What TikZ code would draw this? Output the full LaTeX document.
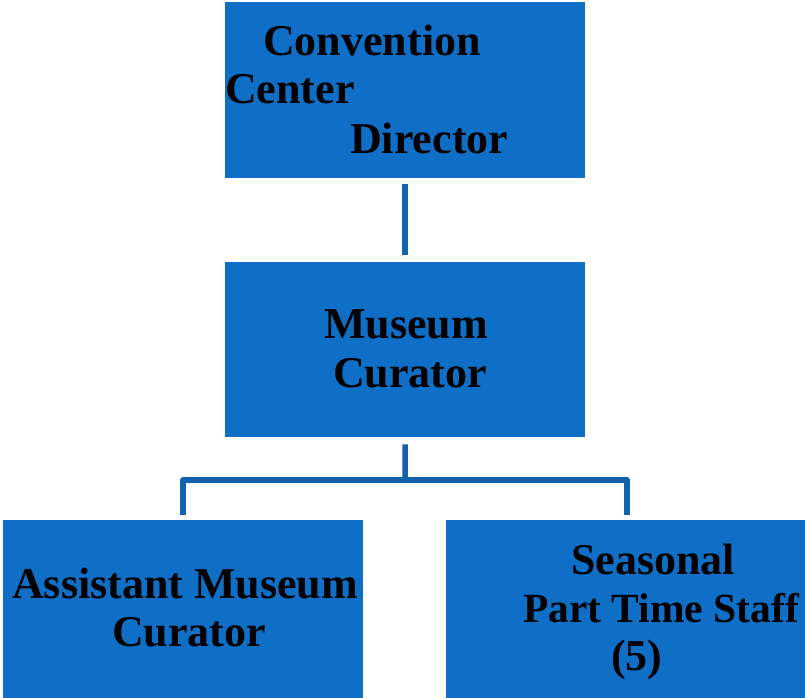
\documentclass[tikz,border=0pt]{standalone}
\usepackage{fontspec}
\setmainfont{Liberation Serif}
\definecolor{boxblue}{HTML}{0F6FC6}
\definecolor{lineblue}{HTML}{1263AE}
\begin{document}
\begin{tikzpicture}[x=1pt,y=-1pt,
  orgbox/.style={fill=boxblue,draw=none,inner sep=0pt,anchor=north west,minimum width=360pt,minimum height=176pt},
  lbl/.style={anchor=base west,inner sep=0pt,font=\fontsize{44}{49}\selectfont\bfseries,text=black},
  conn/.style={draw=lineblue,line width=5.5pt}]
\useasboundingbox[fill=white] (0,0) rectangle (805,698);
\node[orgbox] (top) at (225,2) {};
\node[orgbox,minimum height=175pt] (mid) at (225,262) {};
\node[orgbox,minimum height=178pt] (bl) at (3,520) {};
\node[orgbox,minimum width=359pt,minimum height=178pt] (br) at (446,520) {};
% texts
\node[lbl] (t1) at (263,56) {Convention};
\node[lbl] (t2) at (225,104) {Center};
\node[lbl] (t3) at (350,153) {Director};
\node[lbl] (m1) at (324,338) {Museum};
\node[lbl] (m2) at (333,387) {Curator};
\node[lbl] (a1) at (12,598) {Assistant Museum};
\node[lbl] (a2) at (112,646) {Curator};
\node[lbl] (s1) at (571,574) {Seasonal};
\node[lbl,font=\fontsize{41.5}{49}\selectfont\bfseries] (s2) at (523,622) {Part Time Staff};
\node[lbl] (s3) at (611,670) {(5)};
% connectors
\coordinate (bus) at (405,480);
\draw[conn,shorten <=6pt,shorten >=7pt] (top.south) -- (mid.north);
\draw[conn,shorten <=7pt] (mid.south) -- (bus);
\draw[conn,line join=round,shorten <=5pt,shorten >=5pt] (bl.north) |- (bus) -| ([xshift=1.5pt]br.north);
\end{tikzpicture}
\end{document}
